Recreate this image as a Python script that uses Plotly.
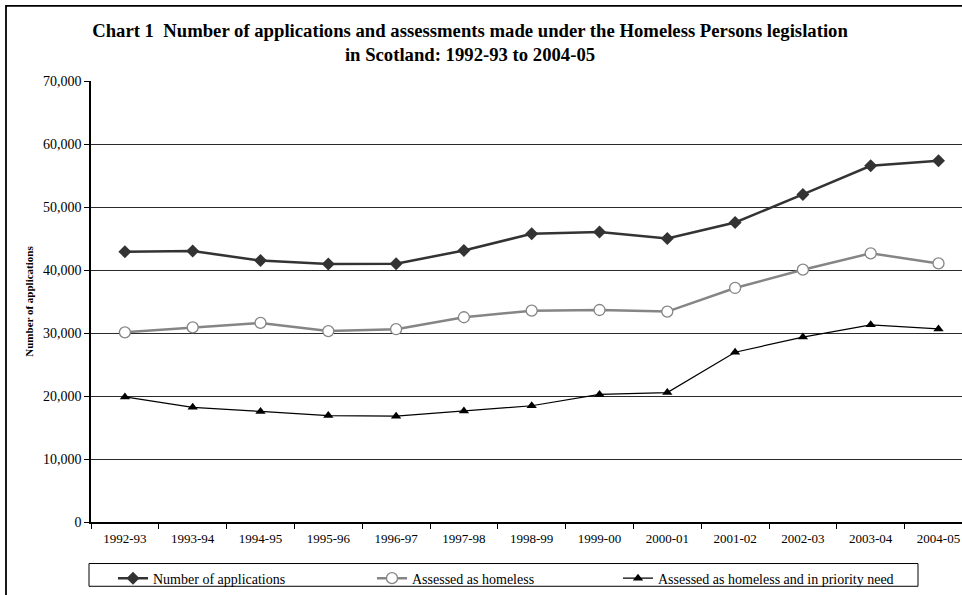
import plotly.graph_objects as go

years = ["1992-93", "1993-94", "1994-95", "1995-96", "1996-97", "1997-98", "1998-99",
         "1999-00", "2000-01", "2001-02", "2002-03", "2003-04", "2004-05"]
applications = [42900, 43000, 41500, 40950, 41000, 43100, 45750, 46050, 45000, 47550, 52000, 56550, 57350]
homeless = [30100, 30900, 31600, 30300, 30600, 32500, 33550, 33650, 33400, 37150, 40050, 42650, 41050]
priority = [19850, 18200, 17550, 16900, 16800, 17600, 18450, 20250, 20550, 26950, 29350, 31300, 30650]

y_ticks = [0, 10000, 20000, 30000, 40000, 50000, 60000, 70000]

FONT = "Liberation Serif"
W, H = 962, 595
L, R_PX, T, B = 91, 962, 81, 527

def px_x(p):
    return (p - L) / (R_PX - L)

def px_y(p):
    return (B - p) / (B - T)

fig = go.Figure()
fig.add_trace(go.Scatter(
    x=years, y=applications, name="Number of applications", mode="lines+markers",
    line=dict(color="#333333", width=2.5),
    marker=dict(symbol="diamond", size=10, color="#333333"), legend="legend"))
fig.add_trace(go.Scatter(
    x=years, y=homeless, name="Assessed as homeless", mode="lines+markers",
    line=dict(color="#858585", width=2.5),
    marker=dict(symbol="circle", size=11, color="white", line=dict(color="#858585", width=1.3)),
    legend="legend2"))
fig.add_trace(go.Scatter(
    x=years, y=priority, name="Assessed as homeless and in priority need", mode="lines+markers",
    line=dict(color="#000000", width=1.2),
    marker=dict(symbol="triangle-up", size=9, color="#000000"), legend="legend3"))

cat_width = 67.8
leg_common = dict(orientation="h", xanchor="left", y=px_y(568), yanchor="top",
                  font=dict(family=FONT, size=14, color="black"),
                  bgcolor="rgba(0,0,0,0)", borderwidth=0)

fig.update_layout(
    width=W, height=H,
    margin=dict(l=L, r=W - R_PX, t=T, b=H - B, pad=0),
    paper_bgcolor="white", plot_bgcolor="white",
    font=dict(family=FONT, color="black", size=13),
    title=dict(
        text="<b>Chart 1  Number of applications and assessments made under the Homeless Persons legislation<br>in Scotland: 1992-93 to 2004-05</b>",
        font=dict(family=FONT, size=18.7, color="black"),
        x=470 / W, xref="container", xanchor="center",
        y=1 - 37 / H, yref="container", yanchor="top"),
    xaxis=dict(
        type="category", range=[-0.5, -0.5 + (R_PX - L) / cat_width],
        tickson="boundaries", ticks="outside", ticklen=5, tickcolor="black", tickwidth=1,
        showline=True, linecolor="black", linewidth=1.5, showgrid=False,
        ticklabelstandoff=4,
        tickfont=dict(family=FONT, size=13, color="black")),
    yaxis=dict(
        range=[0, 70000], tickvals=y_ticks, tickformat=",",
        ticks="outside", ticklen=5, tickcolor="black", tickwidth=1,
        showline=True, linecolor="black", linewidth=1.5,
        showgrid=True, gridcolor="#2a2a2a", gridwidth=1, zeroline=False,
        tickfont=dict(family=FONT, size=14, color="black"),
        title=dict(text="<b>Number of applications</b>", standoff=7,
                   font=dict(family=FONT, size=11, color="black"))),
    legend=dict(x=px_x(113), **leg_common),
    legend2=dict(x=px_x(372), **leg_common),
    legend3=dict(x=px_x(618), **leg_common),
    showlegend=True,
    shapes=[
        dict(type="rect", xref="paper", yref="paper",
             x0=px_x(6), x1=px_x(1000), y0=px_y(640), y1=px_y(5),
             line=dict(color="black", width=1.8), layer="below"),
        dict(type="rect", xref="paper", yref="paper",
             x0=px_x(89), x1=px_x(918), y0=px_y(592), y1=px_y(569),
             line=dict(color="black", width=1), layer="below"),
    ],
)

fig.write_html("out.html",
               config={"displayModeBar": False},
               post_script="document.body.style.margin='0';document.body.style.overflow='hidden';")
